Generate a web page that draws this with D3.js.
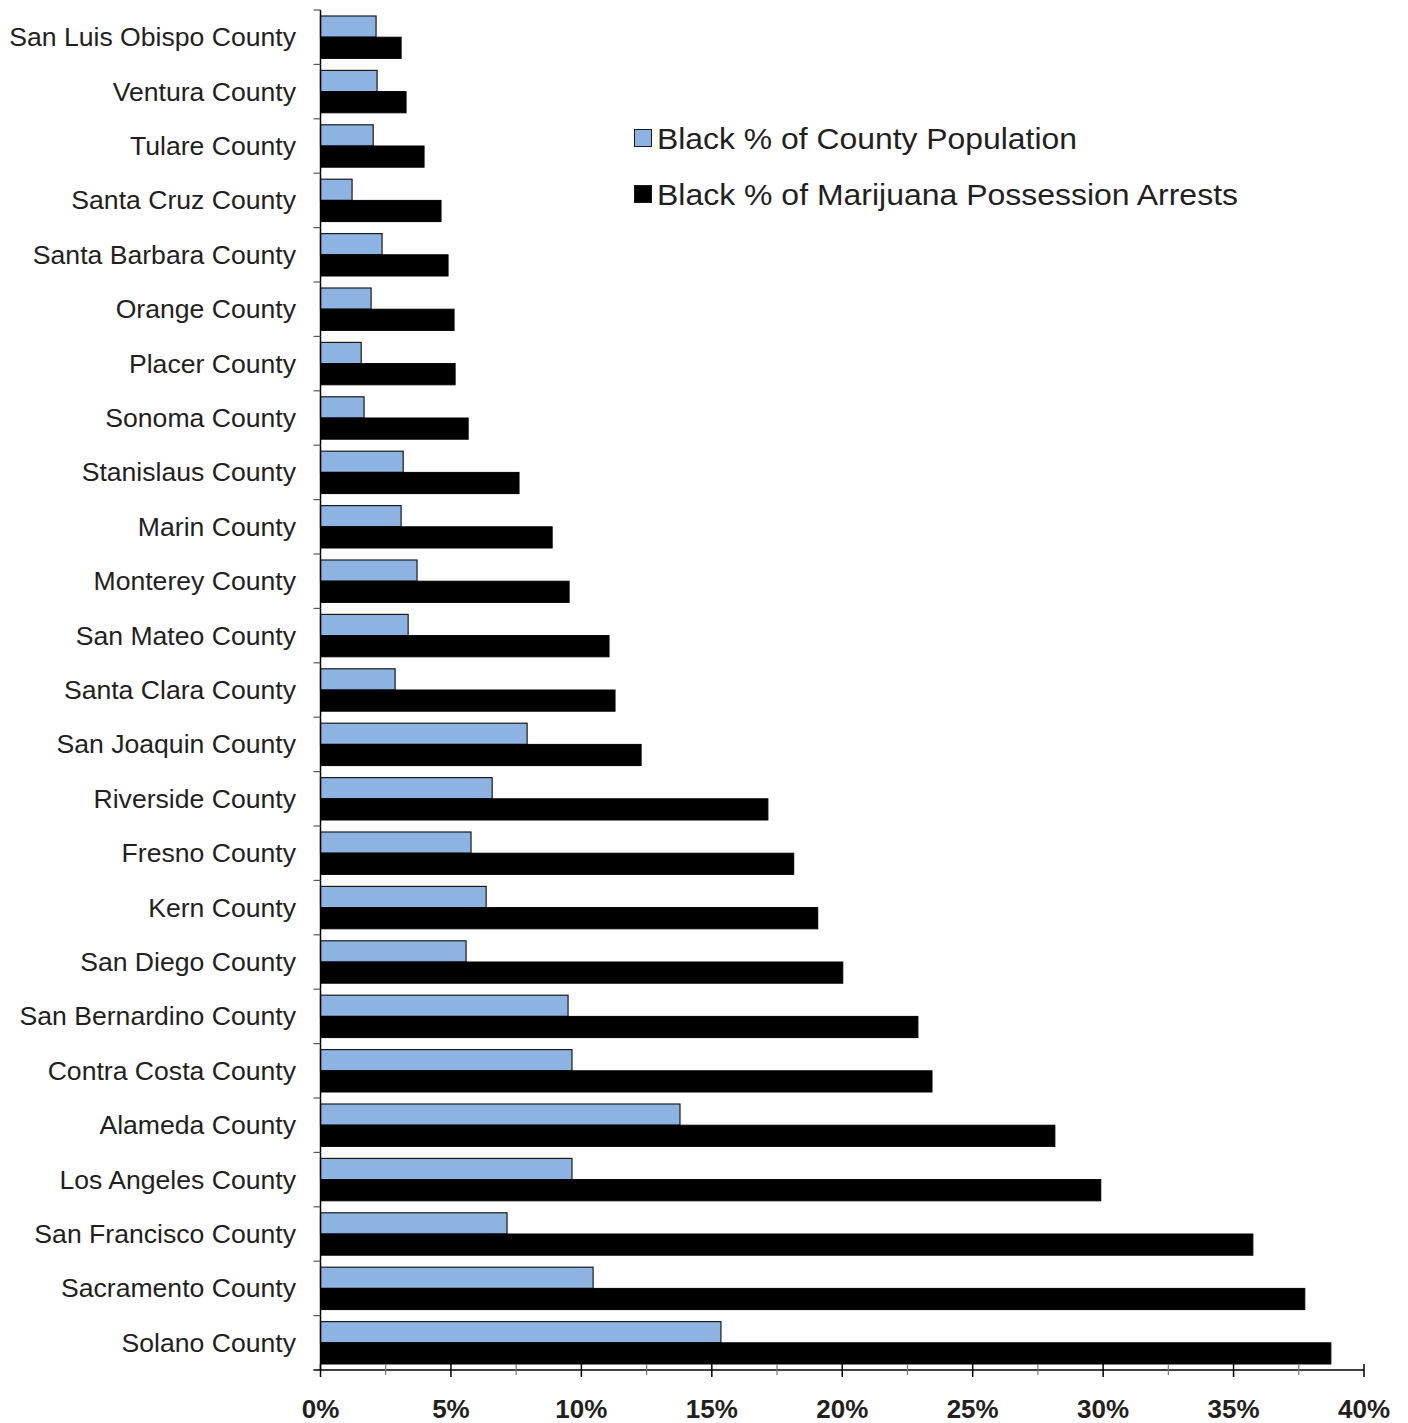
<!DOCTYPE html>
<html>
<head>
<meta charset="utf-8">
<script src="https://cdn.jsdelivr.net/npm/d3@7"></script>
<style>
  html, body { margin: 0; padding: 0; background: #fff; }
  svg { display: block; font-family: "Liberation Sans", Arial, sans-serif; }
</style>
</head>
<body>
<svg id="chart" width="1408" height="1423"></svg>
<script>
// California counties, top to bottom
const counties = [
  "San Luis Obispo County", "Ventura County", "Tulare County", "Santa Cruz County",
  "Santa Barbara County", "Orange County", "Placer County", "Sonoma County",
  "Stanislaus County", "Marin County", "Monterey County", "San Mateo County",
  "Santa Clara County", "San Joaquin County", "Riverside County", "Fresno County",
  "Kern County", "San Diego County", "San Bernardino County", "Contra Costa County",
  "Alameda County", "Los Angeles County", "San Francisco County", "Sacramento County",
  "Solano County"
];

// Black share of each county's population (%)
const populationPct = [
  2.13, 2.17, 2.02, 1.21, 2.36, 1.94, 1.56, 1.67, 3.17, 3.09, 3.70, 3.36, 2.86,
  7.92, 6.58, 5.77, 6.35, 5.58, 9.49, 9.64, 13.78, 9.64, 7.15, 10.45, 15.35
];

// Black share of marijuana possession arrests (%)
const arrestsPct = [
  3.09, 3.28, 3.97, 4.62, 4.89, 5.12, 5.16, 5.66, 7.61, 8.88, 9.53, 11.06, 11.29,
  12.29, 17.15, 18.14, 19.06, 20.02, 22.90, 23.44, 28.15, 29.91, 35.74, 37.73, 38.73
];

const seriesNames = ["Black % of County Population", "Black % of Marijuana Possession Arrests"];
const seriesColors = ["#8db3e2", "#000000"];
const xTicks = [0, 5, 10, 15, 20, 25, 30, 35, 40];
const xMinorTicks = [2.5, 7.5, 12.5, 17.5, 22.5, 27.5, 32.5, 37.5];

const svg = d3.select("#chart");
const margin = { left: 320.5, right: 44, top: 10, bottom: 53 };
const W = 1408, H = 1423;

const x = d3.scaleLinear().domain([0, 40]).range([margin.left, W - margin.right]);
const y = d3.scaleBand().domain(counties).range([margin.top, H - margin.bottom]).paddingInner(0).paddingOuter(0);

const bandPad = 6;
const barH = (y.bandwidth() - 2 * bandPad) / 2;

const g = svg.append("g");

// bars
counties.forEach((c, i) => {
  const y0 = y(c) + bandPad;
  g.append("rect")
    .attr("x", x(0))
    .attr("y", y0)
    .attr("width", x(populationPct[i]) - x(0))
    .attr("height", barH)
    .attr("fill", seriesColors[0])
    .attr("stroke", "#1a1a1a")
    .attr("stroke-width", 1.2);
  g.append("rect")
    .attr("x", x(0))
    .attr("y", y0 + barH)
    .attr("width", x(arrestsPct[i]) - x(0))
    .attr("height", barH)
    .attr("fill", seriesColors[1])
    .attr("stroke", "#000")
    .attr("stroke-width", 1);
});

// category axis
const yAxisG = svg.append("g");
yAxisG.append("line")
  .attr("x1", x(0)).attr("x2", x(0))
  .attr("y1", margin.top).attr("y2", H - margin.bottom)
  .attr("stroke", "#000").attr("stroke-width", 1.5);
counties.forEach(c => {
  yAxisG.append("line")
    .attr("x1", x(0) - 7).attr("x2", x(0))
    .attr("y1", y(c)).attr("y2", y(c))
    .attr("stroke", "#555").attr("stroke-width", 1.2);
  yAxisG.append("text")
    .attr("x", 296)
    .attr("y", y(c) + y.bandwidth() / 2)
    .attr("dy", "0.34em")
    .attr("text-anchor", "end")
    .attr("font-size", 26.6)
    .attr("fill", "#231f20")
    .text(c);
});

// value axis
const axisY = H - margin.bottom;
const xAxisG = svg.append("g");
xAxisG.append("line")
  .attr("x1", x(0) - 7).attr("x2", x(40))
  .attr("y1", axisY).attr("y2", axisY)
  .attr("stroke", "#000").attr("stroke-width", 1.5);
xMinorTicks.forEach(t => {
  xAxisG.append("line")
    .attr("x1", x(t)).attr("x2", x(t))
    .attr("y1", axisY - 6).attr("y2", axisY + 5)
    .attr("stroke", "#777").attr("stroke-width", 1.2);
});
xTicks.forEach(t => {
  xAxisG.append("line")
    .attr("x1", x(t)).attr("x2", x(t))
    .attr("y1", axisY - 6).attr("y2", axisY + 7)
    .attr("stroke", "#000").attr("stroke-width", 1.5);
  xAxisG.append("text")
    .attr("x", x(t))
    .attr("y", 1418)
    .attr("text-anchor", "middle")
    .attr("font-size", 26)
    .attr("font-weight", "bold")
    .attr("fill", "#231f20")
    .text(d3.format(".0%")(t / 100));
});

// legend
const legendWidths = [420, 581];
const legend = svg.append("g");
seriesNames.forEach((name, i) => {
  const ly = 138 + i * 56;
  legend.append("rect")
    .attr("x", 634.5).attr("y", ly - 8.5)
    .attr("width", 17).attr("height", 17)
    .attr("fill", seriesColors[i])
    .attr("stroke", "#1a1a1a").attr("stroke-width", 1);
  legend.append("text")
    .attr("x", 657)
    .attr("y", ly)
    .attr("dy", "0.36em")
    .attr("font-size", 30)
    .attr("textLength", legendWidths[i])
    .attr("lengthAdjust", "spacingAndGlyphs")
    .attr("fill", "#231f20")
    .text(name);
});
</script>
</body>
</html>
